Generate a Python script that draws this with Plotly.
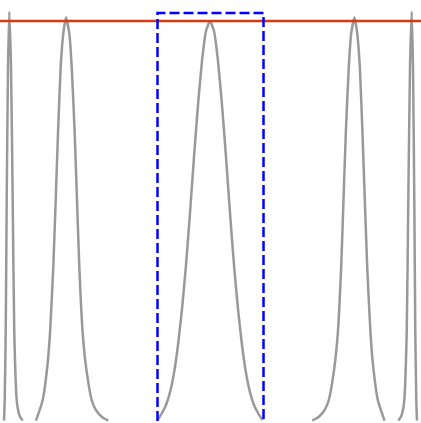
import plotly.graph_objects as go

# narrow peak, left edge
peak1_x = [4.0, 4.3, 4.7, 5.7, 6.7, 8.0, 9.3, 11.0, 12.7, 14.3, 16.7, 18.0, 19.8, 22.7]
peak1_y = [0.001, 0.019, 0.0525, 0.219, 0.5525, 0.886, 1.023, 0.886, 0.5525, 0.219, 0.0525, 0.028, 0.012, 0.001]

# second peak
peak2_x = [36.0, 37.3, 39.6, 42.7, 47.3, 50.0, 53.3, 55.7, 58.0, 60.7, 63.3, 66.0,
           69.3, 71.7, 74.7, 77.0, 79.3, 82.7, 86.0, 91.7, 95.5, 99.5, 103.0, 108.3]
peak2_y = [0.001, 0.011, 0.027, 0.0525, 0.136, 0.219, 0.386, 0.5525, 0.719, 0.886, 0.969, 1.009,
           0.969, 0.886, 0.719, 0.5525, 0.386, 0.219, 0.136, 0.0525, 0.029, 0.016, 0.008, 0.001]

# centre peak (inside the box)
peak3_x = [157.5, 162, 166, 170, 174, 178, 182, 186, 190, 194, 198, 202, 206, 210,
           214, 218, 222, 226, 230, 234, 238, 242, 246, 250, 254, 258, 262.5]
peak3_y = [0.002, 0.02, 0.04, 0.072, 0.12, 0.19, 0.28, 0.39, 0.52, 0.66, 0.79, 0.90, 0.975, 1.0,
           0.975, 0.90, 0.79, 0.66, 0.52, 0.39, 0.28, 0.19, 0.12, 0.072, 0.04, 0.02, 0.002]

# fourth peak
peak4_x = [312.2, 317.5, 321.0, 325.0, 328.8, 334.5, 337.8, 341.2, 343.5, 345.8, 348.8, 351.2, 354.5,
           357.2, 359.8, 362.5, 364.8, 367.2, 370.5, 373.2, 377.8, 380.9, 383.2, 384.5]
peak4_y = [0.001, 0.008, 0.016, 0.029, 0.0525, 0.136, 0.219, 0.386, 0.5525, 0.719, 0.886, 0.969, 1.009,
           0.969, 0.886, 0.719, 0.5525, 0.386, 0.219, 0.136, 0.0525, 0.027, 0.011, 0.001]

# narrow peak, right edge
peak5_x = [398.3, 401.2, 403.0, 404.3, 406.7, 408.3, 410.0, 411.7, 413.0, 414.3, 415.3, 416.3, 416.7, 417.0]
peak5_y = [0.001, 0.012, 0.028, 0.0525, 0.219, 0.5525, 0.886, 1.023, 0.886, 0.5525, 0.219, 0.0525, 0.019, 0.001]

peaks = [(peak1_x, peak1_y), (peak2_x, peak2_y), (peak3_x, peak3_y),
         (peak4_x, peak4_y), (peak5_x, peak5_y)]

# threshold line and selection box
threshold = 1.0
x_span = [0, 421]
box_x = [157.5, 263.5]
box_y = [0.0, 1.02]

fig = go.Figure()

for px, py in peaks:
    fig.add_trace(go.Scatter(
        x=px, y=py,
        mode='lines',
        line=dict(color='#999999', width=2.5, shape='spline', smoothing=0.5),
        showlegend=False,
        hoverinfo='skip'
    ))

# 빨간 기준선
fig.add_trace(go.Scatter(
    x=x_span, y=[threshold, threshold],
    mode='lines',
    line=dict(color='#dc3912', width=2.5),
    showlegend=False,
    hoverinfo='skip'
))

# 파란 점선 박스
fig.add_trace(go.Scatter(
    x=[box_x[0], box_x[0], box_x[1], box_x[1]],
    y=[box_y[0], box_y[1], box_y[1], box_y[0]],
    mode='lines',
    line=dict(color='#0000ff', width=2.5, dash='10px,4px'),
    showlegend=False,
    hoverinfo='skip'
))

fig.update_layout(
    width=421,
    height=423,
    autosize=False,
    margin=dict(l=0, r=0, t=0, b=0),
    paper_bgcolor='white',
    plot_bgcolor='white',
    xaxis=dict(range=[0, 421], visible=False),
    yaxis=dict(range=[-0.005, 1.0525], visible=False),
)

# body 기본 여백 제거
fig.write_html("out.html", config={'displayModeBar': False},
               post_script="document.body.style.margin='0';")
